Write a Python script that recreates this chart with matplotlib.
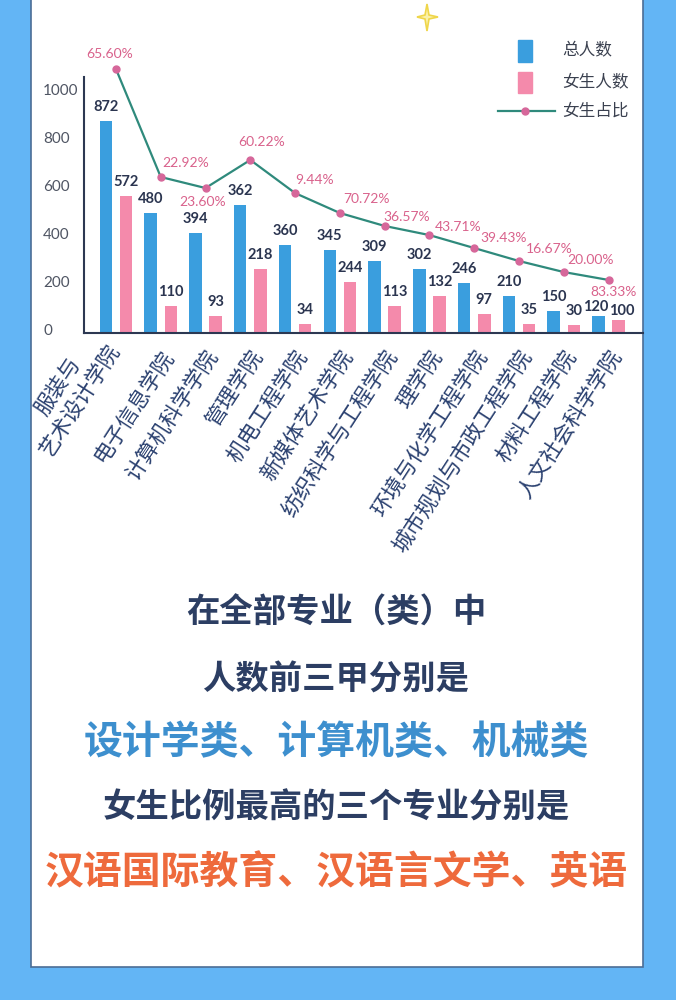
import matplotlib
matplotlib.use("Agg")
import matplotlib.pyplot as plt
import matplotlib.transforms as mtransforms
from matplotlib.patches import Rectangle, Polygon
from matplotlib.lines import Line2D
import numpy as np

plt.rcParams['font.family'] = ['Noto Sans CJK SC', 'DejaVu Sans']

colleges = ["服装与\n艺术设计学院", "电子信息学院", "计算机科学学院", "管理学院", "机电工程学院",
            "新媒体艺术学院", "纺织科学与工程学院", "理学院", "环境与化学工程学院",
            "城市规划与市政工程学院", "材料工程学院", "人文社会科学学院"]
total_count = [872, 480, 394, 362, 360, 345, 309, 302, 246, 210, 150, 120]
female_count = [572, 110, 93, 218, 34, 244, 113, 132, 97, 35, 30, 100]
female_pct = [65.60, 22.92, 23.60, 60.22, 9.44, 70.72, 36.57, 43.71, 39.43, 16.67, 20.00, 83.33]
# bar heights as drawn in the picture (the original is not quite to scale)
total_bar = [883, 500, 417, 533, 367, 346, 300, 267, 208, 154, 92, 71]
female_bar = [571, 113, 71, 267, 38, 213, 113, 154, 79, 38, 33, 54]
# height of the ratio line, in units of the count axis
ratio_line = [1100, 650, 604, 721, 583, 500, 446, 408, 354, 300, 254, 221]

summary_lines = ["在全部专业（类）中", "人数前三甲分别是", "设计学类、计算机类、机械类",
                 "女生比例最高的三个专业分别是", "汉语国际教育、汉语言文学、英语"]

BLUE = '#3a9ede'
PINK = '#f48aab'
NAVY = '#2c3852'

W, H = 676, 1000


def fx(px):
    return px / W


def fy(py):
    return 1 - py / H


fig = plt.figure(figsize=(W / 100, H / 100), dpi=100)
fig.patch.set_facecolor('#63b5f5')
fig.add_artist(Rectangle((fx(31), fy(967)), fx(643) - fx(31), fy(-5) - fy(967),
                         transform=fig.transFigure, facecolor='white',
                         edgecolor='#4b6d96', lw=1.2, zorder=0))

# little sparkle at the top
cx, cy = 427, 17
star = [(0, -13), (2, -2), (11, 0), (2, 2), (0, 14), (-2, 2), (-10, 0), (-2, -2)]
fig.add_artist(Polygon([(fx(cx + a), fy(cy + b)) for a, b in star], closed=True,
                       transform=fig.transFigure, facecolor='#fbf1a8',
                       edgecolor='#efd64a', lw=1.2))

ax = fig.add_axes([fx(84), fy(333), fx(643) - fx(84), (333 - 77) / H])
ax.set_facecolor('none')
x = np.arange(len(colleges))
bw = 0.28
ax.bar(x - 0.225, total_bar, bw, color=BLUE, zorder=2)
ax.bar(x + 0.225, female_bar, bw, color=PINK, zorder=2)
ax.plot(x, ratio_line, color='#2f8a7c', lw=1.6, marker='o', ms=5,
        mfc='#d6679a', mec='#d6679a', clip_on=False, zorder=3)
ax.set_xlim(-0.714, 11.77)
ax.set_ylim(0, 256 / 0.24)

for s in ['top', 'right']:
    ax.spines[s].set_visible(False)
for s in ['left', 'bottom']:
    ax.spines[s].set_color(NAVY)
    ax.spines[s].set_linewidth(1.5)

ax.set_yticks([0, 200, 400, 600, 800, 1000])
ax.tick_params(axis='y', length=0, pad=29.5, labelsize=11, labelcolor='#4f5563')
up = mtransforms.ScaledTranslation(0, 3.5 / 100, fig.dpi_scale_trans)
for lab in ax.get_yticklabels():
    lab.set_ha('left')
    lab.set_fontfamily('Lato')
    lab.set_transform(lab.get_transform() + up)

ax.set_xticks(x)
ax.set_xticklabels(colleges, fontsize=15.5, color='#2b4170', fontweight='medium')
ax.tick_params(axis='x', length=0, pad=13.7)
right = mtransforms.ScaledTranslation(8 / 100, 0, fig.dpi_scale_trans)
for i, lab in enumerate(ax.get_xticklabels()):
    lab.set_rotation(57)
    lab.set_rotation_mode('anchor')
    lab.set_ha('right')
    lab.set_va('bottom' if i == 0 else 'center')
    lab.set_multialignment('center')
    lab.set_transform(lab.get_transform() + right)

# the last pair of count labels sits lower and a little apart (px: dx, dy)
total_nudge = [(0, 0)] * 11 + [(-3, -5)]
female_nudge = [(0, 0)] * 11 + [(3, -5)]
for i in range(len(x)):
    dx, dy = total_nudge[i]
    ax.annotate(str(total_count[i]), (x[i] - 0.225, total_bar[i]),
                xytext=(dx * 0.72, 10 + dy * 0.72),
                textcoords='offset points', ha='center', va='center', fontsize=10.5,
                fontweight='bold', color='#2b3550', family='Lato', zorder=4)
    dx, dy = female_nudge[i]
    ax.annotate(str(female_count[i]), (x[i] + 0.225, female_bar[i]),
                xytext=(dx * 0.72, 10 + dy * 0.72),
                textcoords='offset points', ha='center', va='center', fontsize=10.5,
                fontweight='bold', color='#2b3550', family='Lato', zorder=4)

# label placement around each marker, in pixels: dx, dy (up), alignment
pct_offsets = [(-6, 15, 'center'), (2, 14, 'left'), (-3, -14, 'center'), (11, 18, 'center'),
               (0, 13, 'left'), (3, 14, 'left'), (-1, 9, 'left'), (5, 8, 'left'),
               (6, 10, 'left'), (7, 12, 'left'), (4, 12, 'left'), (5, -12, 'center')]
for i in range(len(x)):
    dx, dy, ha = pct_offsets[i]
    ax.annotate(f"{female_pct[i]:.2f}%", (x[i], ratio_line[i]), xytext=(dx * 0.72, dy * 0.72),
                textcoords='offset points', ha=ha, va='center', fontsize=10,
                color='#d9628c', family='Lato', annotation_clip=False, zorder=4)

# legend
fig.add_artist(Rectangle((fx(518), fy(62)), fx(532) - fx(518), 22 / H,
                         transform=fig.transFigure, color=BLUE))
fig.add_artist(Rectangle((fx(518), fy(93)), fx(532) - fx(518), 21 / H,
                         transform=fig.transFigure, color=PINK))
fig.add_artist(Line2D([fx(498), fx(555)], [fy(111), fy(111)], transform=fig.transFigure,
                      color='#2f8a7c', lw=1.6))
fig.add_artist(Line2D([fx(525)], [fy(111)], transform=fig.transFigure, marker='o', ms=5,
                      mfc='#d6679a', mec='#d6679a'))
for txt, py in zip(["总人数", "女生人数", "女生占比"], [51, 82, 111]):
    fig.text(fx(562), fy(py), txt, ha='left', va='center', fontsize=12, color='#3b4150')

# summary text under the chart
line_y = [613, 680, 743, 808, 873]
line_size = [24, 24, 28, 24, 28]
line_color = ['#2c3e63', '#2c3e63', '#3d8fce', '#2c3e63', '#ee6a3c']
for txt, py, fs, c in zip(summary_lines, line_y, line_size, line_color):
    fig.text(fx(336), fy(py), txt, ha='center', va='center', fontsize=fs,
             fontweight='bold', color=c)

fig.savefig('out.png', dpi=100, facecolor=fig.get_facecolor())
